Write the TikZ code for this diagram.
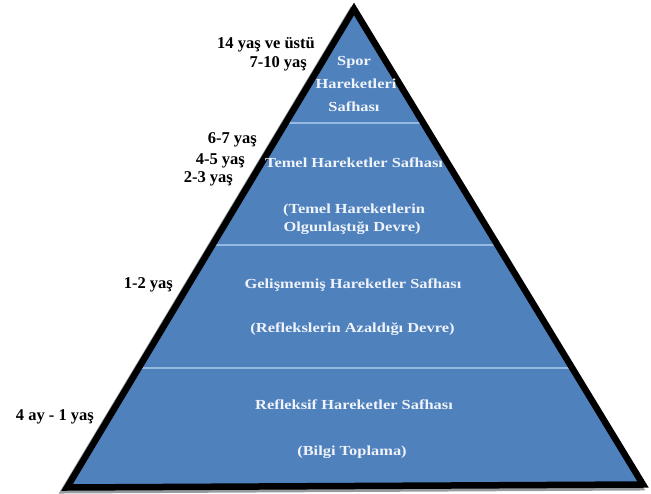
\documentclass[tikz,border=0pt]{standalone}
\usepackage{fontspec}
\setmainfont{Liberation Serif}
\newfontfamily\innerfont[FakeStretch=1.19]{Liberation Serif}
\definecolor{pyrblue}{RGB}{79,129,189}
\definecolor{divline}{RGB}{150,185,225}
\definecolor{txtw}{RGB}{240,244,250}
\definecolor{shadowgray}{RGB}{150,155,160}
\begin{document}
\begin{tikzpicture}[x=1pt,y=-1pt,
  innertxt/.style={text=txtw, font=\innerfont\fontsize{13.8}{15}\selectfont\bfseries, inner sep=0pt},
  agelbl/.style={text=black, font=\fontsize{16.5}{18}\selectfont\bfseries, anchor=east, inner sep=0pt},
  divider/.style={draw=divline, line width=1.5pt},
  outline/.style={draw=black, line width=6.5pt, line join=miter}]
\useasboundingbox (0,0) rectangle (651,494);
\coordinate (A) at (354,9);
\coordinate (BL) at (67,487.5);
\coordinate (BR) at (643,484.5);
% shadow
\draw[draw=shadowgray, line width=6pt, line join=miter]
  ([shift={(-3,3)}]A) -- ([shift={(-3,3)}]BL) -- ([shift={(-3,3)}]BR) -- cycle;
\fill[pyrblue] (A) -- (BL) -- (BR) -- cycle;
\begin{scope}
  \clip (A) -- (BL) -- (BR) -- cycle;
  \draw[divider] (0,123) -- (651,123);
  \draw[divider] (0,245) -- (651,245);
  \draw[divider] (0,368) -- (651,368);
\end{scope}
\draw[outline] (A) -- (BL) -- (BR) -- cycle;
% inner texts
\node[innertxt] (s1) at (354,62) {Spor};
\node[innertxt] (s2) at (356,84) {Hareketleri};
\node[innertxt] (s3) at (354,107) {Safhası};
\node[innertxt] (t1) at (354,163) {Temel Hareketler Safhası};
\node[innertxt] (t2) at (354,210) {(Temel Hareketlerin};
\node[innertxt] (t3) at (352,228) {Olgunlaştığı Devre)};
\node[innertxt] (g1) at (353,285) {Gelişmemiş Hareketler Safhası};
\node[innertxt] (g2) at (352.5,329) {(Reflekslerin Azaldığı Devre)};
\node[innertxt] (r1) at (354,405) {Refleksif Hareketler Safhası};
\node[innertxt] (r2) at (352,452) {(Bilgi Toplama)};
% age labels
\node[agelbl] (a1) at (315,45) {14 yaş ve üstü};
\node[agelbl] (a2) at (307,64) {7-10 yaş};
\node[agelbl] (a3) at (257,140) {6-7 yaş};
\node[agelbl] (a4) at (245,161) {4-5 yaş};
\node[agelbl] (a5) at (233,179) {2-3 yaş};
\node[agelbl] (a6) at (173,285) {1-2 yaş};
\node[agelbl] (a7) at (94,417) {4 ay - 1 yaş};
\end{tikzpicture}
\end{document}
